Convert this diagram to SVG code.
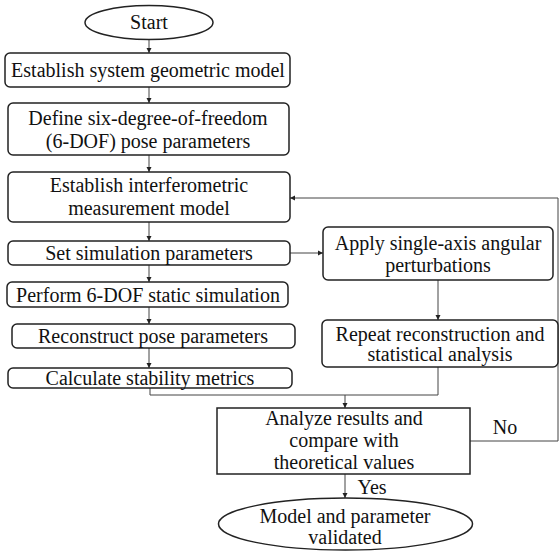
<svg xmlns="http://www.w3.org/2000/svg" width="560" height="551" viewBox="0 0 560 551">
<defs>
<marker id="ah" markerWidth="6" markerHeight="6" refX="5" refY="3" orient="auto" markerUnits="userSpaceOnUse">
<path d="M0,0.5 L5,3 L0,5.5 Z" fill="#222"/>
</marker>
<style>
.box{fill:#fff;stroke:#222;stroke-width:1.5}
text{font-family:'Liberation Serif','DejaVu Serif','Times New Roman',Times,serif;font-size:20px;fill:#111;text-anchor:middle;dominant-baseline:central}
.c{fill:none;stroke:#444;stroke-width:1}
.ca{fill:none;stroke:#444;stroke-width:1;marker-end:url(#ah)}
</style>
</defs>
<rect width="560" height="551" fill="#fff"/>
<g id="connectors">
<path class="ca" d="M149,40 V53"/>
<path class="ca" d="M149,87 V103"/>
<path class="ca" d="M149,155 V172"/>
<path class="ca" d="M149,222 V241"/>
<path class="ca" d="M149,265 V282"/>
<path class="ca" d="M149,307 V324"/>
<path class="ca" d="M149,348 V368"/>
<path class="ca" d="M290,253 H323"/>
<path class="ca" d="M438,280 V320"/>
<path class="c" d="M150,388 V395 H438 V367"/>
<path class="ca" d="M345,395 V408"/>
<path class="ca" d="M345,474 V498"/>
<path class="ca" d="M470,441 H558 V198 H290"/>
<text x="505" y="427">No</text>
<text x="372" y="487">Yes</text>
</g>
<g id="start"><ellipse class="box" cx="149" cy="22.5" rx="64" ry="17"/><text x="149" y="22">Start</text></g>
<g id="n1"><rect class="box" x="5" y="53" width="285" height="34" rx="5"/><text x="148" y="70">Establish system geometric model</text></g>
<g id="n2"><rect class="box" x="8" y="103" width="281" height="52" rx="5"/><text x="148" y="118">Define six-degree-of-freedom</text><text x="148" y="141">(6-DOF) pose parameters</text></g>
<g id="n3"><rect class="box" x="8" y="172" width="282" height="50" rx="5"/><text x="149" y="185">Establish interferometric</text><text x="149" y="208">measurement model</text></g>
<g id="n4"><rect class="box" x="8" y="241" width="282" height="24" rx="5"/><text x="149" y="253">Set simulation parameters</text></g>
<g id="n5"><rect class="box" x="7" y="282" width="281" height="25" rx="5"/><text x="148" y="294.5">Perform 6-DOF static simulation</text></g>
<g id="n6"><rect class="box" x="12" y="324" width="283" height="24" rx="5"/><text x="153" y="336">Reconstruct pose parameters</text></g>
<g id="n7"><rect class="box" x="8" y="368" width="284" height="20" rx="5"/><text x="150" y="378">Calculate stability metrics</text></g>
<g id="n8"><rect class="box" x="323" y="227" width="230" height="53" rx="5"/><text x="438" y="243">Apply single-axis angular</text><text x="438" y="265">perturbations</text></g>
<g id="n9"><rect class="box" x="322" y="320" width="236" height="47" rx="5"/><text x="440" y="334">Repeat reconstruction and</text><text x="440" y="354">statistical analysis</text></g>
<g id="n10"><rect class="box" x="217" y="408" width="253" height="66"/><text x="344" y="418">Analyze results and</text><text x="344" y="440">compare with</text><text x="344" y="462">theoretical values</text></g>
<g id="end"><ellipse class="box" cx="345.5" cy="524" rx="127" ry="26"/><text x="345" y="516">Model and parameter</text><text x="345" y="537">validated</text></g>
</svg>
